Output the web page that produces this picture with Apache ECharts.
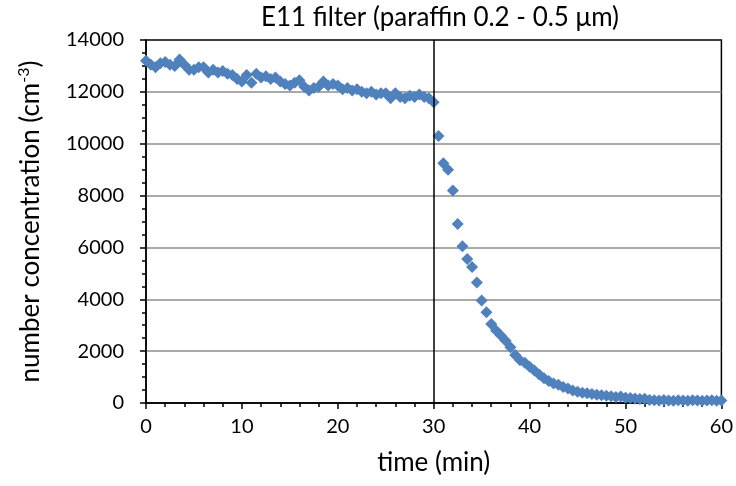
<!DOCTYPE html>
<html><head><meta charset="utf-8">
<script src="https://cdn.jsdelivr.net/npm/echarts@6/dist/echarts.min.js"></script>
<style>html,body{margin:0;padding:0;background:#fff}#c{width:736px;height:486px}</style>
</head><body><div id="c"></div>
<script>
const titleText = 'E11 filter (paraffin 0.2 - 0.5 μm)';
const xName = 'time (min)';
const yNameMain = 'number concentration (cm';
const yNameSup = '-3';
const xTicks = [0, 10, 20, 30, 40, 50, 60];
const yTicks = [0, 2000, 4000, 6000, 8000, 10000, 12000, 14000];
const switchTime = 30;
const times = [
 0,0.5,1,1.5,2,2.5,3,3.5,4,4.5,5,5.5,6,6.5,7,7.5,8,8.5,9,9.5,
 10,10.5,11,11.5,12,12.5,13,13.5,14,14.5,15,15.5,16,16.5,17,17.5,18,18.5,19,19.5,
 20,20.5,21,21.5,22,22.5,23,23.5,24,24.5,25,25.5,26,26.5,27,27.5,28,28.5,29,29.5,
 30,30.5,31,31.5,32,32.5,33,33.5,34,34.5,35,35.5,36,36.5,37,37.5,38,38.5,39,39.5,
 40,40.5,41,41.5,42,42.5,43,43.5,44,44.5,45,45.5,46,46.5,47,47.5,48,48.5,49,49.5,
 50,50.5,51,51.5,52,52.5,53,53.5,54,54.5,55,55.5,56,56.5,57,57.5,58,58.5,59,59.5,60
];
const concentration = [
 13200,13050,12950,13100,13150,13050,13000,13250,13050,12850,12850,12950,12950,12750,12850,12750,12800,12700,12650,12500,
 12400,12650,12350,12700,12550,12600,12500,12550,12400,12300,12250,12350,12450,12200,12050,12150,12200,12400,12250,12300,
 12250,12100,12150,12050,12100,12000,11950,12000,11900,11950,11950,11750,11950,11800,11750,11850,11800,11900,11800,11750,
 11600,10300,9250,9000,8200,6900,6050,5550,5250,4650,3950,3500,3050,2800,2600,2400,2150,1850,1650,1550,
 1400,1250,1100,950,850,750,700,620,560,480,430,400,380,350,320,300,280,260,230,250,
 200,190,170,150,160,120,110,100,120,100,90,110,100,90,110,100,90,100,110,90,100
];

const font = 'Lato, "Open Sans", sans-serif';
const chart = echarts.init(document.getElementById('c'));
chart.setOption({
  animation: false,
  title: { text: titleText, left: 435, top: 0, textAlign: 'center',
    textStyle: { fontFamily: font, fontSize: 26, fontWeight: 'normal', color: '#000' } },
  grid: { left: 146, right: 13, top: 40, bottom: 83, show: true, borderColor: '#000', borderWidth: 1.5, backgroundColor: 'transparent' },
  xAxis: {
    type: 'value', min: xTicks[0], max: xTicks[xTicks.length-1], interval: 10,
    name: xName, nameLocation: 'middle', nameGap: 47,
    nameTextStyle: { fontFamily: font, fontSize: 26, color: '#000' },
    axisLine: { show: true, onZero: false, lineStyle: { color: '#000', width: 1.5 } },
    axisTick: { show: true, inside: false, length: 6, lineStyle: { color: '#000', width: 1.5 } },
    minorTick: { show: true, splitNumber: 5, length: 4, lineStyle: { color: '#000', width: 1.5 } },
    axisLabel: { fontFamily: font, fontSize: 20, color: '#000', margin: 14 },
    splitLine: { show: false }
  },
  yAxis: {
    type: 'value', min: yTicks[0], max: yTicks[yTicks.length-1], interval: 2000,
    name: '{a|' + yNameMain + '}{b|' + yNameSup + '}{a|)}', nameLocation: 'middle', nameGap: 100, nameRotate: 90,
    nameTextStyle: { rich: {
      a: { fontFamily: font, fontSize: 26, color: '#000', lineHeight: 30 },
      b: { fontFamily: font, fontSize: 16, color: '#000', verticalAlign: 'top', lineHeight: 30, padding: [0,0,10,0] }
    } },
    axisLine: { show: true, lineStyle: { color: '#000', width: 1.5 } },
    axisTick: { show: true, inside: false, length: 6, lineStyle: { color: '#000', width: 1.5 } },
    minorTick: { show: true, splitNumber: 4, length: 4, lineStyle: { color: '#000', width: 1.5 } },
    axisLabel: { fontFamily: font, fontSize: 20, color: '#000', margin: 22, formatter: v => String(v) },
    splitLine: { show: true, showMaxLine: false, showMinLine: false, lineStyle: { color: '#8c8c8c', width: 1.5 } }
  },
  series: [{
    type: 'scatter',
    data: times.map((t, i) => [t, concentration[i]]),
    symbol: 'diamond', symbolSize: [12, 12],
    itemStyle: { color: '#4F81BD', opacity: 1 },
    markLine: {
      silent: true, symbol: 'none', label: { show: false },
      lineStyle: { color: '#000', width: 1.5, type: 'solid' },
      data: [{ xAxis: switchTime }]
    },
    z: 3
  }]
});
</script></body></html>
